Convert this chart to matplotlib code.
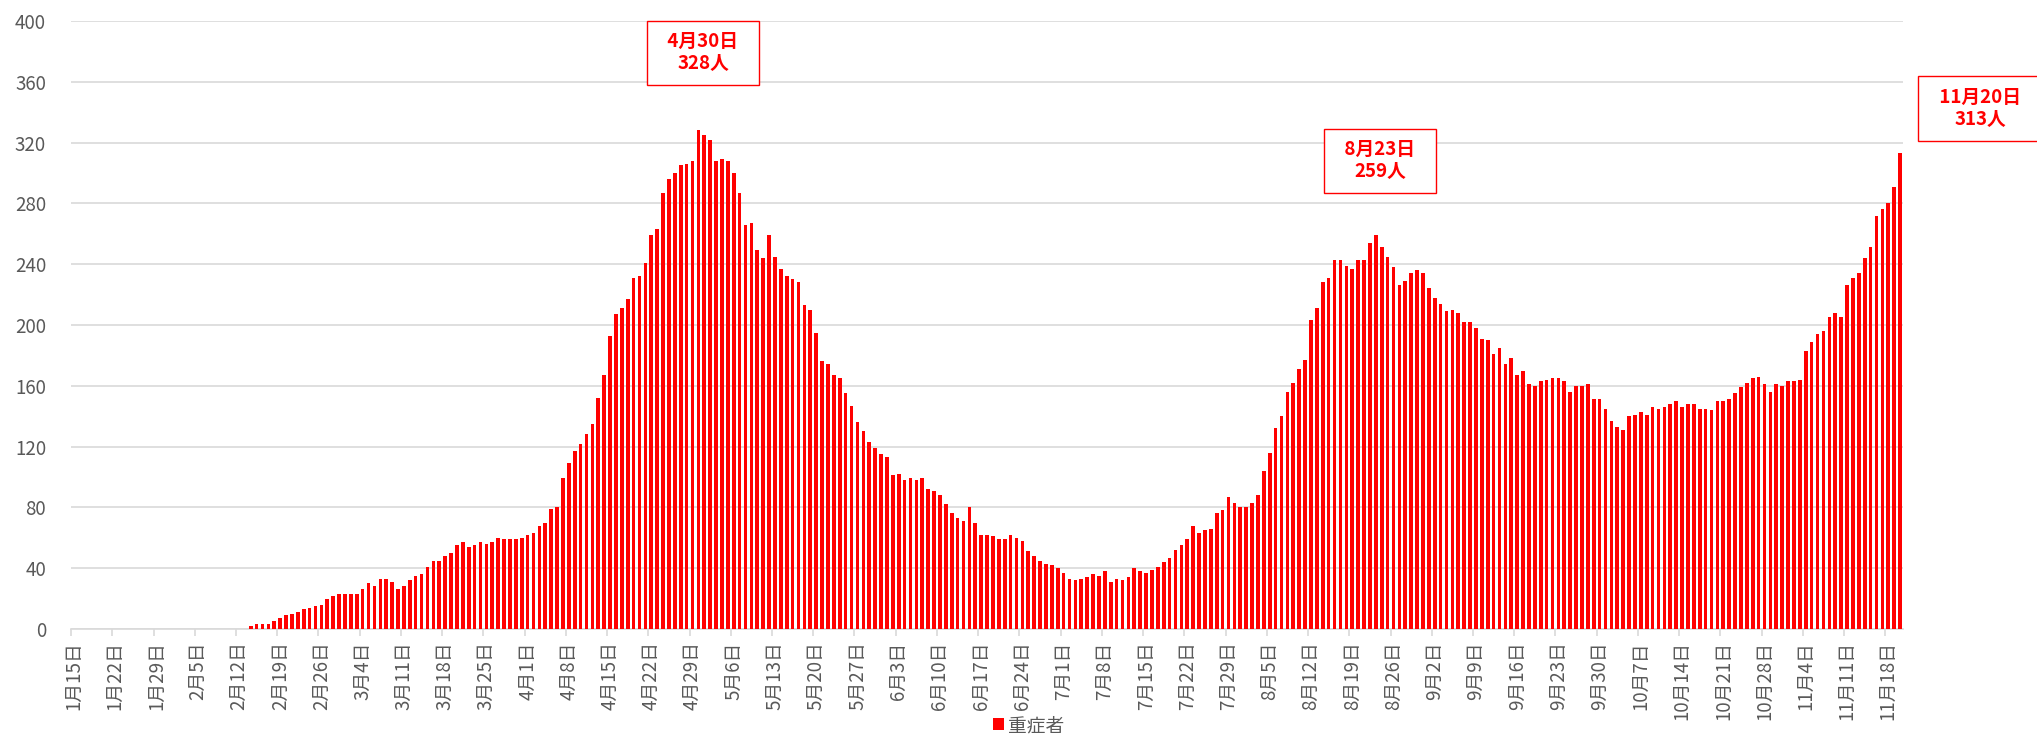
import matplotlib
matplotlib.use("Agg")
import matplotlib.pyplot as plt
import numpy as np
import pandas as pd

plt.rcParams['font.family'] = ['Noto Sans CJK JP', 'DejaVu Sans']

# daily counts of severe cases, 2020-01-15 .. 2020-11-20
start_date = '2020-01-15'
end_date = '2020-11-20'
severe_jan_feb = [0] * 30 + [2, 3, 3, 3, 5, 7, 9, 10, 11, 13, 14, 15, 16, 20, 22, 23]
severe_mar = [23, 23, 23, 26, 30, 28, 33, 33, 31, 26, 28, 32, 35, 36, 41, 45, 45, 48, 50, 55,
              57, 54, 55, 57, 56, 57, 60, 59, 59, 59, 60]
severe_apr = [62, 63, 68, 70, 79, 80, 99, 109, 117, 122, 128, 135, 152, 167, 193, 207, 211, 217,
              231, 232, 241, 259, 263, 287, 296, 300, 305, 306, 308, 328]
severe_may = [325, 322, 308, 309, 308, 300, 287, 266, 267, 249, 244, 259, 245, 237, 232, 230, 228,
              213, 210, 195, 176, 174, 167, 165, 155, 147, 136, 130, 123, 119, 115]
severe_jun = [113, 101, 102, 98, 99, 98, 99, 92, 91, 88, 82, 76, 73, 71, 80, 70, 62, 62, 61, 59,
              59, 62, 60, 58, 51, 48, 45, 43, 42, 40]
severe_jul = [37, 33, 32, 33, 34, 36, 35, 38, 31, 33, 32, 34, 40, 38, 37, 39, 41, 44, 47, 52, 55,
              59, 68, 63, 65, 66, 76, 78, 87, 83, 80]
severe_aug = [80, 83, 88, 104, 116, 132, 140, 156, 162, 171, 177, 203, 211, 228, 231, 243, 243,
              239, 237, 243, 243, 254, 259, 251, 245, 238, 226, 229, 234, 236, 234]
severe_sep = [224, 218, 214, 209, 210, 208, 202, 202, 198, 191, 190, 181, 185, 174, 178, 167, 170,
              161, 160, 163, 164, 165, 165, 163, 156, 160, 160, 161, 151, 151]
severe_oct = [145, 137, 133, 131, 140, 141, 143, 141, 146, 145, 146, 148, 150, 146, 148, 148, 145,
              145, 144, 150, 150, 151, 155, 159, 162, 165, 166, 161, 156, 161, 160]
severe_nov = [163, 163, 164, 183, 189, 194, 196, 205, 208, 205, 226, 231, 234, 244, 251, 272, 276,
              280, 291, 313]

severe = (severe_jan_feb + severe_mar + severe_apr + severe_may + severe_jun + severe_jul
          + severe_aug + severe_sep + severe_oct + severe_nov)
dates = pd.date_range(start_date, end_date, freq='D')
assert len(dates) == len(severe), (len(dates), len(severe))

callout_dates = ['2020-04-30', '2020-08-23', '2020-11-20']
# label box offsets (days, persons) relative to the bar top
callout_offsets = [(0.8, 51), (0.7, 49), (13.6, 29.5)]

red = '#ff0000'
grey_txt = '#595959'
grid_col = '#d9d9d9'

x = np.arange(len(severe))
day_labels = [f'{d.month}月{d.day}日' for d in dates]

fig = plt.figure(figsize=(20.37, 7.44), dpi=100)
ax = fig.add_axes([0.0349, 0.1546, 0.8993, 0.8172])

ax.bar(x, severe, width=0.62, color=red, label='重症者', zorder=3)

ax.set_xlim(-0.5, len(severe) - 0.5)
ax.set_ylim(0, 400)
ax.set_yticks(np.arange(0, 401, 40))
ax.yaxis.grid(True, color=grid_col, linewidth=1.2, zorder=0)
ax.tick_params(axis='y', length=0, pad=18, labelsize=13.5, labelcolor=grey_txt)

# labels on every 7th day, tick marks between categories
ax.set_xticks(x[::7])
ax.set_xticklabels(day_labels[::7], rotation=90)
ax.tick_params(axis='x', which='major', length=0, pad=9, labelsize=13.5, labelcolor=grey_txt)
ax.set_xticks(x[::7] - 0.5, minor=True)
ax.tick_params(axis='x', which='minor', length=5, width=1.2, color=grid_col)

for side in ['left', 'right', 'top']:
    ax.spines[side].set_visible(False)
ax.spines['bottom'].set_color(grid_col)
ax.spines['bottom'].set_linewidth(1.2)

for cd, (dx, dy) in zip(callout_dates, callout_offsets):
    i = list(dates).index(pd.Timestamp(cd))
    d = dates[i]
    ax.text(i + dx, severe[i] + dy, f'\u2002{d.month}月{d.day}日\u2002\n{severe[i]}人',
            ha='center', va='center', color=red, fontsize=13.5, fontweight='bold',
            linespacing=1.2, clip_on=False, zorder=5,
            bbox=dict(boxstyle='square,pad=0.62', facecolor='white', edgecolor=red, linewidth=1))

fig.legend(loc='lower center', bbox_to_anchor=(0.505, -0.012), frameon=False,
           fontsize=13.5, labelcolor=grey_txt, handlelength=0.6, handleheight=0.6,
           handletextpad=0.2)

fig.savefig('out.png', dpi=100)
